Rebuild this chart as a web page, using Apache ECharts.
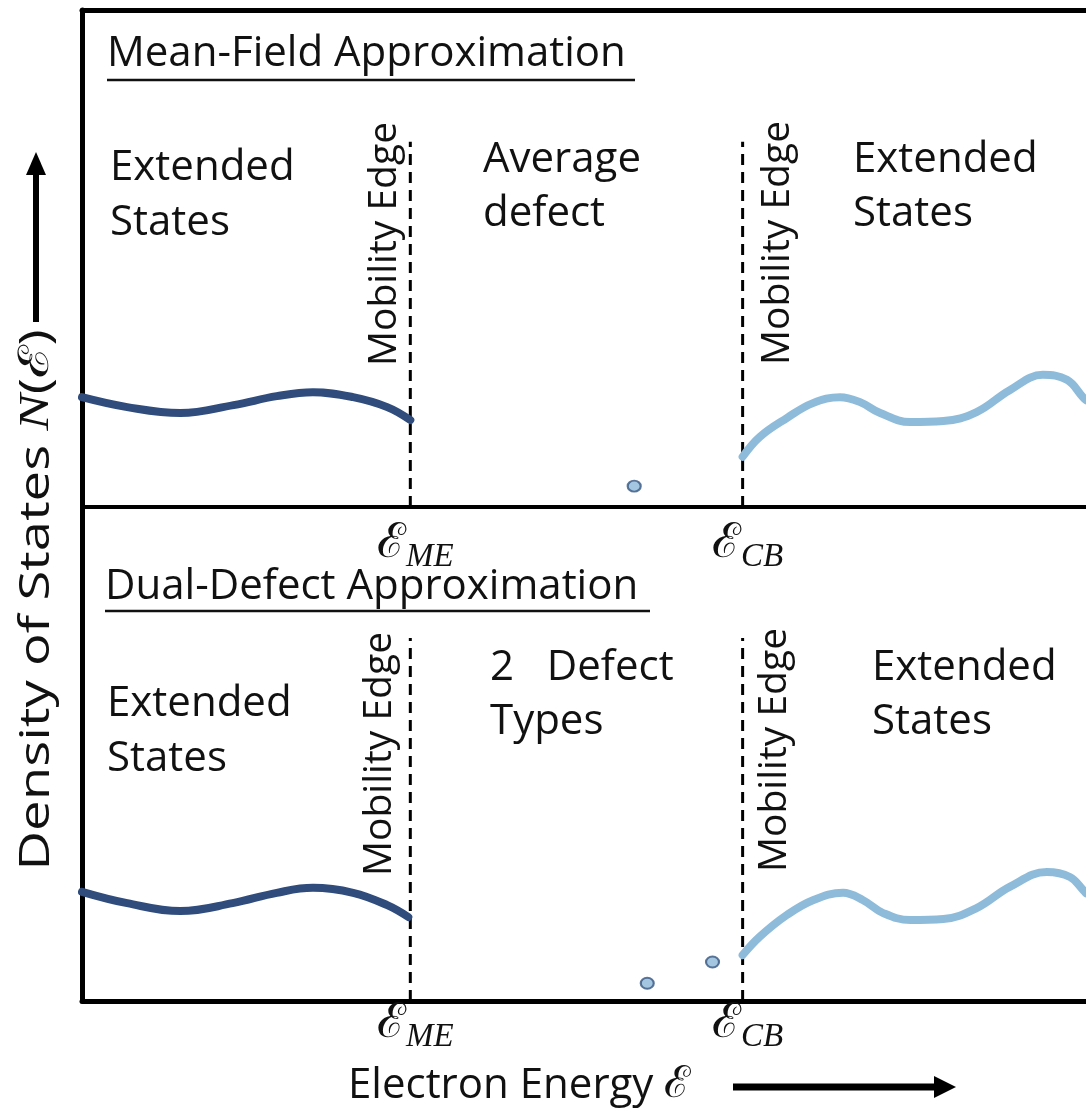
<!DOCTYPE html>
<html>
<head>
<meta charset="utf-8">
<script src="https://cdn.jsdelivr.net/npm/echarts@6/dist/echarts.min.js"></script>
<style>
html,body{margin:0;padding:0;background:#fff;}
#chart{width:1086px;height:1112px;}
</style>
</head>
<body>
<div id="chart"></div>
<script>
// ---- data (energy in arbitrary units 0..10, density of states 0..10) ----
const meX = 3.27;          // mobility edge energy
const cbX = 6.58;          // conduction band edge energy
const edgeTop = 7.35;      // height of dashed mobility-edge markers
const tickLabels = ['ME', 'CB'];

// Mean-field panel
const mfValenceX = [0.00, 0.45, 0.98, 1.51, 1.94, 2.30, 2.70, 3.04, 3.27];
const mfValenceY = [2.21, 2.01, 1.89, 2.05, 2.23, 2.31, 2.21, 2.01, 1.75];
const mfCondX = [6.58, 6.75, 7.02, 7.28, 7.55, 7.75, 7.95, 8.25, 8.58, 8.91, 9.24, 9.57, 9.81, 9.97, 10.0];
const mfCondY = [1.01, 1.41, 1.79, 2.09, 2.21, 2.11, 1.89, 1.71, 1.73, 1.91, 2.35, 2.66, 2.56, 2.21, 2.15];
const mfDefectX = [5.50];
const mfDefectY = [0.42];

// Dual-defect panel
const ddValenceX = [0.00, 0.45, 0.98, 1.50, 1.94, 2.30, 2.70, 3.04, 3.25];
const ddValenceY = [2.21, 1.98, 1.82, 1.98, 2.19, 2.29, 2.19, 1.94, 1.70];
const ddCondX = [6.58, 6.75, 7.02, 7.28, 7.58, 7.78, 7.98, 8.25, 8.58, 8.91, 9.24, 9.61, 9.84, 9.97, 10.0];
const ddCondY = [0.93, 1.30, 1.74, 2.04, 2.19, 2.04, 1.78, 1.64, 1.66, 1.88, 2.31, 2.61, 2.51, 2.25, 2.18];
const ddDefectX = [5.63, 6.28];
const ddDefectY = [0.36, 0.79];

// ---- helpers ----
const zip = (xs, ys) => xs.map((x, i) => [x, ys[i]]);
const FONT = '"Open Sans", "DejaVu Sans", sans-serif';
const DARK = '#2f4c7c';
const LIGHT = '#8fbbda';

function curve(name, xi, yi, xs, ys, color) {
  return {
    name, type: 'line', xAxisIndex: xi, yAxisIndex: yi,
    data: zip(xs, ys), smooth: 0.4, showSymbol: false, symbol: 'none',
    lineStyle: { color, width: 8, cap: 'round', join: 'round' }, silent: true, z: 3
  };
}
function edge(name, xi, yi, x) {
  return {
    name, type: 'line', xAxisIndex: xi, yAxisIndex: yi,
    data: [[x, 0], [x, edgeTop]], showSymbol: false, symbol: 'none',
    lineStyle: { color: '#000', width: 3, type: [11, 7] }, silent: true, z: 2
  };
}
function dots(name, xi, yi, xs, ys) {
  return {
    name, type: 'scatter', xAxisIndex: xi, yAxisIndex: yi,
    data: zip(xs, ys), symbol: 'circle', symbolSize: [13, 11],
    itemStyle: { color: '#8fb8d8', borderColor: '#34557f', borderWidth: 2 }, silent: true, z: 4
  };
}

const labelRich = {
  e: { fontFamily: '"DejaVu Serif", serif', fontSize: 48, color: '#111', verticalAlign: 'top', lineHeight: 50 },
  s: { fontFamily: '"Liberation Serif", serif', fontStyle: 'italic', fontSize: 33, color: '#111', padding: [20, 0, 0, 0], verticalAlign: 'top', lineHeight: 50 }
};
function energyAxis(grid, margin) {
  return {
    type: 'value', gridIndex: grid, min: 0, max: 10, position: 'bottom',
    axisLine: { show: true, onZero: false, lineStyle: { color: '#000', width: grid === 0 ? 4 : 5 } },
    axisTick: { show: false }, splitLine: { show: false },
    axisLabel: {
      show: true, customValues: [meX, cbX], margin, padding: [0, 0, 0, 10],
      formatter: v => '{e|ℰ}{s|' + (Math.abs(v - meX) < 1e-6 ? tickLabels[0] : tickLabels[1]) + '}',
      rich: labelRich
    }
  };
}
function dosAxis(grid) {
  return {
    type: 'value', gridIndex: grid, min: 0, max: 10,
    axisLine: { show: true, onZero: false, lineStyle: { color: '#000', width: 5 } },
    axisTick: { show: false }, splitLine: { show: false }, axisLabel: { show: false }
  };
}

function txt(x, y, text, size) {
  return {
    type: 'text', x, y, silent: true,
    style: { text, font: size + 'px ' + FONT, fill: '#111', align: 'left', verticalAlign: 'middle' }
  };
}
function vtxt(x, y, text, size) {
  return {
    type: 'text', x, y, rotation: Math.PI / 2, silent: true,
    style: { text, font: size + 'px ' + FONT, fill: '#111', align: 'center', verticalAlign: 'middle' }
  };
}

const chart = echarts.init(document.getElementById('chart'), null, { renderer: 'canvas' });
chart.setOption({
  backgroundColor: '#fff',
  animation: false,
  grid: [
    { left: 82, right: 0, top: 10, height: 497 },
    { left: 82, right: 0, top: 507, height: 494 }
  ],
  xAxis: [
    energyAxis(0, 14),
    energyAxis(1, 0),
    { type: 'value', gridIndex: 0, min: 0, max: 10, position: 'top',
      axisLine: { show: true, onZero: false, lineStyle: { color: '#000', width: 5 } },
      axisTick: { show: false }, axisLabel: { show: false }, splitLine: { show: false } }
  ],
  yAxis: [dosAxis(0), dosAxis(1)],
  series: [
    edge('mfME', 0, 0, meX), edge('mfCB', 0, 0, cbX),
    curve('mfValence', 0, 0, mfValenceX, mfValenceY, DARK),
    curve('mfCond', 0, 0, mfCondX, mfCondY, LIGHT),
    dots('mfDefect', 0, 0, mfDefectX, mfDefectY),
    edge('ddME', 1, 1, meX), edge('ddCB', 1, 1, cbX),
    curve('ddValence', 1, 1, ddValenceX, ddValenceY, DARK),
    curve('ddCond', 1, 1, ddCondX, ddCondY, LIGHT),
    dots('ddDefect', 1, 1, ddDefectX, ddDefectY)
  ],
  graphic: [
    // top panel
    txt(107, 54, 'Mean-Field Approximation', 42),
    { type: 'line', silent: true, shape: { x1: 107, y1: 80, x2: 635, y2: 80 }, style: { stroke: '#111', lineWidth: 2.5 } },
    txt(110, 168, 'Extended', 42), txt(110, 223, 'States', 42),
    txt(483, 160, 'Average', 42), txt(483, 214, 'defect', 42),
    txt(853, 160, 'Extended', 42), txt(853, 214, 'States', 42),
    vtxt(385, 244, 'Mobility Edge', 39),
    vtxt(778, 243, 'Mobility Edge', 39),
    // bottom panel
    txt(105, 587, 'Dual-Defect Approximation', 42),
    { type: 'line', silent: true, shape: { x1: 105, y1: 611, x2: 650, y2: 611 }, style: { stroke: '#111', lineWidth: 2.5 } },
    txt(107, 704, 'Extended', 42), txt(107, 759, 'States', 42),
    txt(490, 668, '2   Defect', 42), txt(490, 722, 'Types', 42),
    txt(872, 668, 'Extended', 42), txt(872, 722, 'States', 42),
    vtxt(380, 754, 'Mobility Edge', 39),
    vtxt(775, 750, 'Mobility Edge', 39),
    // y title + arrow
    {
      type: 'text', x: 37, y: 600, rotation: Math.PI / 2, scaleX: 1.3, silent: true,
      style: {
        text: '{a|Density of States }{b|N}{a|(}{c|ℰ}{a|)}',
        align: 'center', verticalAlign: 'middle',
        rich: {
          a: { fontFamily: FONT, fontSize: 42, fill: '#111' },
          b: { fontFamily: '"Liberation Serif", serif', fontStyle: 'italic', fontSize: 42, fill: '#111' },
          c: { fontFamily: '"DejaVu Serif", serif', fontSize: 42, fill: '#111' }
        }
      }
    },
    { type: 'line', silent: true, shape: { x1: 36, y1: 322, x2: 36, y2: 170 }, style: { stroke: '#000', lineWidth: 6 } },
    { type: 'polygon', silent: true, shape: { points: [[36, 152], [26, 175], [46, 175]] }, style: { fill: '#000' } },
    // x title + arrow
    {
      type: 'text', x: 348, y: 1086, silent: true,
      style: {
        text: '{a|Electron Energy }{c|ℰ}', align: 'left', verticalAlign: 'middle',
        rich: {
          a: { fontFamily: FONT, fontSize: 42, fill: '#111' },
          c: { fontFamily: '"DejaVu Serif", serif', fontSize: 44, fill: '#111' }
        }
      }
    },
    { type: 'line', silent: true, shape: { x1: 733, y1: 1087, x2: 938, y2: 1087 }, style: { stroke: '#000', lineWidth: 7 } },
    { type: 'polygon', silent: true, shape: { points: [[956, 1087], [934, 1076], [934, 1098]] }, style: { fill: '#000' } }
  ]
});
</script>
</body>
</html>
